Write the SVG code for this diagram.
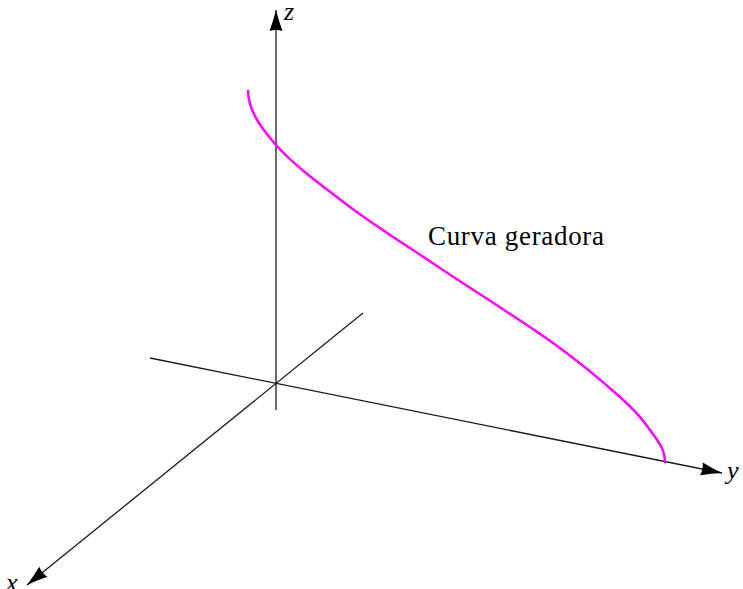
<svg xmlns="http://www.w3.org/2000/svg" width="743" height="589" viewBox="0 0 743 589">
<style>
.axis{stroke:#1a1a1a;stroke-width:1.3;fill:none}
.curve{stroke:#ff00ff;stroke-width:2.5;fill:none}
.lbl{font-family:"Liberation Serif",serif;font-style:italic;font-size:26px;fill:#000}
.txt{font-family:"Liberation Serif",serif;font-size:27px;fill:#000}
</style>
<defs>
<marker id="arr" markerUnits="userSpaceOnUse" markerWidth="24" markerHeight="16" viewBox="-22 -8 24 16" refX="0" refY="0" orient="auto">
<path d="M0,0 Q-10,-2.5 -21,-6.5 Q-19,0 -21,6.5 Q-10,2.5 0,0 Z" fill="#000"/>
</marker>
</defs>
<rect width="743" height="589" fill="#fff"/>
<g id="connectors">
<line id="axis-z" class="axis" x1="276" y1="410" x2="276" y2="10" marker-end="url(#arr)"/>
<line id="axis-y" class="axis" x1="150" y1="358" x2="722" y2="473" marker-end="url(#arr)"/>
<line id="axis-x" class="axis" x1="363" y1="313" x2="27" y2="585" marker-end="url(#arr)"/>
</g>
<g id="curve">
<path class="curve" d="M248,90 C248,109 259,125.5 276,145 C293,164.5 322.7,186.5 350,207 C377.3,227.5 406.2,245.3 440,268 C473.8,290.7 523,321.5 553,343 C583,364.5 603.8,382.5 620,397 C636.2,411.5 642.5,419 650,430 C657.5,441 665,448 665,463"/>
</g>
<g id="labels">
<text class="lbl" x="284" y="20">z</text>
<text class="lbl" x="727" y="479">y</text>
<text class="lbl" x="6" y="591">x</text>
<text class="txt" x="428" y="245" textLength="176">Curva geradora</text>
</g>
</svg>
